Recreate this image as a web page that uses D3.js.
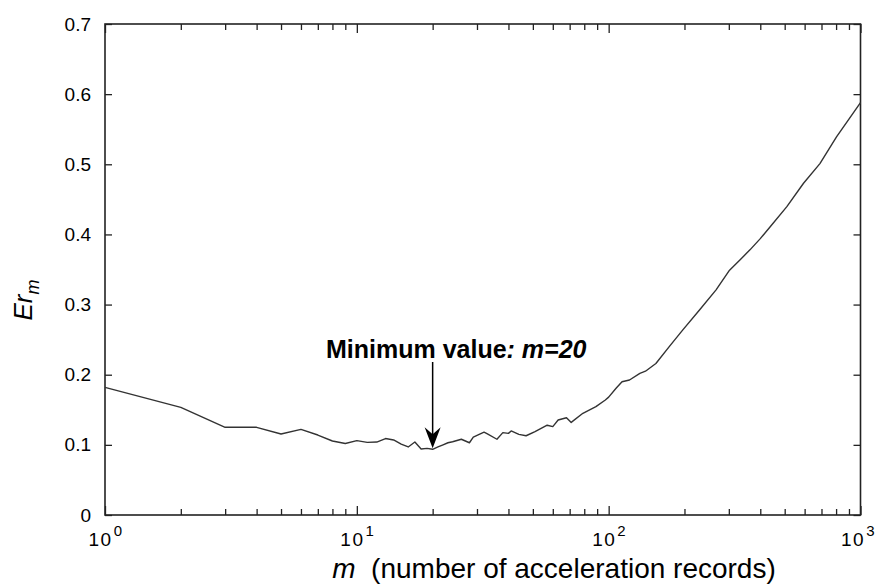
<!DOCTYPE html>
<html>
<head>
<meta charset="utf-8">
<script src="https://cdn.jsdelivr.net/npm/d3@7"></script>
<style>
  body { margin: 0; background: #fff; }
  text { font-family: Arial, "Liberation Sans", sans-serif; fill: #000; }
</style>
</head>
<body>
<div id="container"></div>
<script>
/* CONSTANTS AND GLOBALS */
const width = 876,
  height = 585,
  margin = { top: 24, bottom: 70, left: 105, right: 15 };

// DATA
const mValues = [1, 2, 3, 4, 5, 6, 7, 8, 9, 10, 11, 12, 13, 14, 15, 16, 17, 18, 19, 20,
  21, 22, 23, 24, 26, 28, 29, 32, 33, 36, 38, 40, 41, 44, 47, 51, 57, 60, 63, 68, 71,
  79, 89, 97, 100, 107, 113, 121, 133, 140, 154, 174, 197, 229, 267, 302, 332, 364,
  400, 438, 510, 594, 690, 803, 935, 1000];
const erValues = [0.182, 0.1535, 0.125, 0.125, 0.1155, 0.122, 0.114, 0.1055, 0.102, 0.106,
  0.1035, 0.104, 0.109, 0.107, 0.101, 0.097, 0.104, 0.094, 0.095, 0.0937,
  0.097, 0.1, 0.103, 0.1045, 0.108, 0.103, 0.111, 0.118, 0.1155, 0.108, 0.1174, 0.1164,
  0.1198, 0.115, 0.113, 0.1188, 0.128, 0.126, 0.1354, 0.1387, 0.132,
  0.145, 0.1545, 0.164, 0.168, 0.1806, 0.19, 0.1925, 0.202, 0.205, 0.216, 0.24, 0.264,
  0.292, 0.321, 0.349, 0.3636, 0.378, 0.394, 0.411, 0.4396, 0.473, 0.501, 0.539, 0.573, 0.588];
const decades = [1, 10, 100, 1000];
const decadeExp = ["0", "1", "2", "3"];
const yTicks = [0, 0.1, 0.2, 0.3, 0.4, 0.5, 0.6, 0.7];
const minM = 20;
const minEr = 0.0937;

const data = mValues.map((m, i) => ({ m: m, er: erValues[i] }));

// SCALES
const xScale = d3.scaleLog()
  .domain([1, 1000])
  .range([margin.left, width - margin.right - 0.5]);

const yScale = d3.scaleLinear()
  .domain([0, 0.7])
  .range([height - margin.bottom, margin.top]);

// SVG
const svg = d3.select("#container")
  .append("svg")
  .attr("width", width)
  .attr("height", height);

// AXES (ticks point inward on all four sides)
const xTickVals = xScale.ticks();

const xBottom = svg.append("g")
  .attr("transform", `translate(0, ${height - margin.bottom})`)
  .call(d3.axisBottom(xScale).tickValues(xTickVals).tickSizeInner(-6).tickSizeOuter(0).tickFormat(""));

const xTop = svg.append("g")
  .attr("transform", `translate(0, ${margin.top})`)
  .call(d3.axisTop(xScale).tickValues(xTickVals).tickSizeInner(-6).tickSizeOuter(0).tickFormat(""));

[xBottom, xTop].forEach((g, k) => {
  g.selectAll(".tick line")
    .attr("y2", d => (decades.includes(d) ? 9 : 6) * (k === 0 ? -1 : 1));
});

const yLeft = svg.append("g")
  .attr("transform", `translate(${margin.left}, 0)`)
  .call(d3.axisLeft(yScale).tickValues(yTicks).tickSizeInner(-7).tickSizeOuter(0)
    .tickPadding(14).tickFormat(d3.format(".1~f")));

yLeft.selectAll("text")
  .style("font-size", "19px")
  .style("font-family", "Arial, 'Liberation Sans', sans-serif");

const yRight = svg.append("g")
  .attr("transform", `translate(${width - margin.right - 0.5}, 0)`)
  .call(d3.axisRight(yScale).tickValues(yTicks).tickSizeInner(-7).tickSizeOuter(0).tickFormat(""));

svg.selectAll(".domain").remove();
svg.selectAll(".tick line").attr("stroke", "#222").attr("stroke-width", 1.3);

// FRAME
svg.append("rect")
  .attr("x", margin.left)
  .attr("y", margin.top)
  .attr("width", width - margin.right - 0.5 - margin.left)
  .attr("height", height - margin.bottom - margin.top)
  .attr("fill", "none")
  .attr("stroke", "#222")
  .attr("stroke-width", 1.6);

// X TICK LABELS  10^n
const xLab = svg.selectAll(".xlab")
  .data(decades)
  .join("text")
  .attr("class", "xlab")
  .attr("x", d => xScale(d) + (d === 1000 ? -2 : 1))
  .attr("y", height - margin.bottom + 31)
  .attr("text-anchor", "middle")
  .style("font-size", "19px")
  .style("letter-spacing", "1.5px")
  .text("10");

xLab.append("tspan")
  .attr("dy", -10)
  .attr("dx", 1)
  .style("font-size", "15px")
  .text((d, i) => decadeExp[i]);

// LINE
const line = d3.line()
  .x(d => xScale(d.m))
  .y(d => yScale(d.er));

svg.append("path")
  .datum(data)
  .attr("d", line)
  .attr("fill", "none")
  .attr("stroke", "#333")
  .attr("stroke-width", 1.4)
  .attr("stroke-linejoin", "round");

// ANNOTATION
const ax = xScale(minM);
svg.append("line")
  .attr("x1", ax).attr("x2", ax)
  .attr("y1", 362)
  .attr("y2", yScale(minEr) - 14)
  .attr("stroke", "#000")
  .attr("stroke-width", 1.5);

svg.append("path")
  .attr("d", `M${ax},${yScale(minEr) - 1} L${ax - 8},${yScale(minEr) - 22} L${ax},${yScale(minEr) - 15} L${ax + 8},${yScale(minEr) - 22} Z`)
  .attr("fill", "#000");

const ann = svg.append("text")
  .attr("x", 326)
  .attr("y", 358)
  .style("font-size", "25px")
  .style("font-weight", "bold");
ann.append("tspan").text("Minimum value");
ann.append("tspan").style("font-style", "italic").text(": m=20");

// AXIS TITLES
const xt = svg.append("text")
  .attr("x", (325 + 783) / 2)
  .attr("y", 578)
  .attr("text-anchor", "middle")
  .style("font-size", "28px");
xt.append("tspan").style("font-style", "italic").text("m");
xt.append("tspan").text("\u00a0\u00a0(number of acceleration records)");

const yt = svg.append("text")
  .attr("transform", "translate(32, 300) rotate(-90)")
  .attr("text-anchor", "middle")
  .style("font-size", "26px")
  .style("font-style", "italic");
yt.append("tspan").text("Er");
yt.append("tspan").attr("dy", 7).style("font-size", "18px").text("m");
</script>
</body>
</html>
